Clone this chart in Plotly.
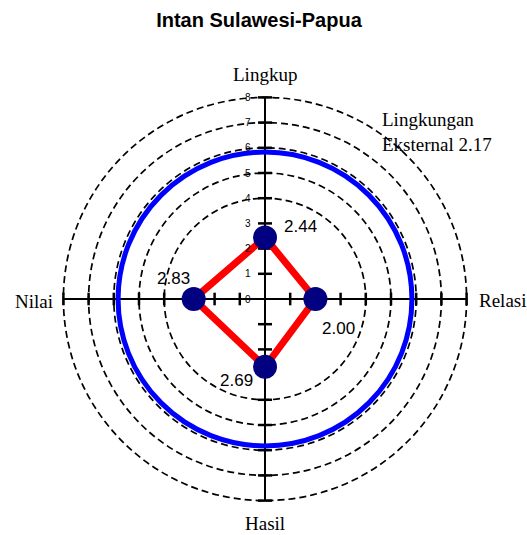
import numpy as np
import plotly.graph_objects as go

# ---- data ----
title = "Intan Sulawesi-Papua"
categories = ["Lingkup", "Relasi", "Hasil", "Nilai"]
values = [2.44, 2.00, 2.69, 2.83]
angles_deg = [90, 0, 270, 180]
ring_radii = [4, 5, 6, 7, 8]
axis_max = 8
tick_values = list(range(0, 9))
external_label = ["Lingkungan", "Eksternal 2.17"]
external_value = 2.17

# ---- geometry ----
W, H = 527, 535
scale = 25.2          # px per unit
cx, cy = 265, 299
xr = [-cx / scale, (W - cx) / scale]
yr = [-(H - cy) / scale, cy / scale]

ang = np.deg2rad(angles_deg)
vals = np.array(values)
px = vals * np.cos(ang)
py = vals * np.sin(ang)

fig = go.Figure()
shapes = []
for r in ring_radii:
    shapes.append(dict(type="circle", xref="x", yref="y", x0=-r, x1=r, y0=-r, y1=r,
                       line=dict(color="black", width=1.7, dash="7px,4px"), layer="below"))
shapes.append(dict(type="line", xref="x", yref="y", x0=-axis_max, x1=axis_max, y0=0, y1=0,
                   line=dict(color="black", width=2), layer="below"))
shapes.append(dict(type="line", xref="x", yref="y", x0=0, x1=0, y0=-axis_max, y1=axis_max,
                   line=dict(color="black", width=2), layer="below"))
rb = axis_max - external_value
shapes.append(dict(type="circle", xref="x", yref="y", x0=-rb, x1=rb, y0=-rb, y1=rb,
                   line=dict(color="#0000FF", width=5), layer="below"))

# tick marks
tk = [t for t in range(-axis_max, axis_max + 1) if t != 0]
fig.add_trace(go.Scatter(x=tk, y=[0] * len(tk), mode="markers", hoverinfo="skip",
                         marker=dict(symbol="line-ns", size=9, line=dict(color="black", width=2.5))))
fig.add_trace(go.Scatter(x=[0] * len(tk), y=tk, mode="markers", hoverinfo="skip",
                         marker=dict(symbol="line-ew", size=10, line=dict(color="black", width=2.5))))

# data polygon
fig.add_trace(go.Scatter(x=list(px) + [px[0]], y=list(py) + [py[0]], mode="lines",
                         line=dict(color="#FF0000", width=7), hoverinfo="skip"))
fig.add_trace(go.Scatter(x=px, y=py, mode="markers", hoverinfo="skip",
                         marker=dict(color="#000080", size=24)))

ann = []
# value labels
offsets = {"Lingkup": (35, 11), "Relasi": (23, -29), "Hasil": (-29, -14), "Nilai": (-20, 21)}
for c, v, x, y in zip(categories, values, px, py):
    dx, dy = offsets[c]
    ann.append(dict(x=x, y=y, xref="x", yref="y", text=f"{v:.2f}", showarrow=False,
                    xshift=dx, yshift=dy, font=dict(family="Arial", size=17, color="black")))
# radial tick labels
for t in tick_values:
    ann.append(dict(x=0, y=t, xref="x", yref="y", text=str(t), showarrow=False, xshift=-17,
                    font=dict(family="Arial", size=10, color="black")))
# category labels
serif = dict(family="Liberation Serif, Times New Roman, serif", size=19, color="black")
lab_r = 8.89
cat_pos = {"Lingkup": (0, lab_r, "center"), "Hasil": (0, -lab_r, "center"),
           "Relasi": (8.42, -0.05, "left"), "Nilai": (-8.33, -0.1, "right")}
for c in categories:
    x, y, xa = cat_pos[c]
    ann.append(dict(x=x, y=y, xref="x", yref="y", text=c, showarrow=False, xanchor=xa,
                    font=serif))
ann.append(dict(x=4.55, y=7.14, xref="x", yref="y", text=external_label[0], showarrow=False,
                xanchor="left", font=serif))
ann.append(dict(x=4.55, y=6.15, xref="x", yref="y", text=external_label[1], showarrow=False,
                xanchor="left", font=serif))

fig.update_layout(
    width=W, height=H, autosize=False,
    margin=dict(l=0, r=0, t=0, b=0),
    paper_bgcolor="white", plot_bgcolor="white",
    showlegend=False,
    title=dict(text=f"<b>{title}</b>", x=259 / W, xanchor="center",
               y=1 - 20 / H, yanchor="middle",
               font=dict(family="Arial", size=20, color="black")),
    xaxis=dict(range=xr, visible=False, fixedrange=True),
    yaxis=dict(range=yr, visible=False, fixedrange=True),
    shapes=shapes, annotations=ann,
)
fig.write_html(
    "out.html",
    config={"displayModeBar": False},
    post_script="document.body.style.margin='0';document.documentElement.style.overflow='hidden';",
)
